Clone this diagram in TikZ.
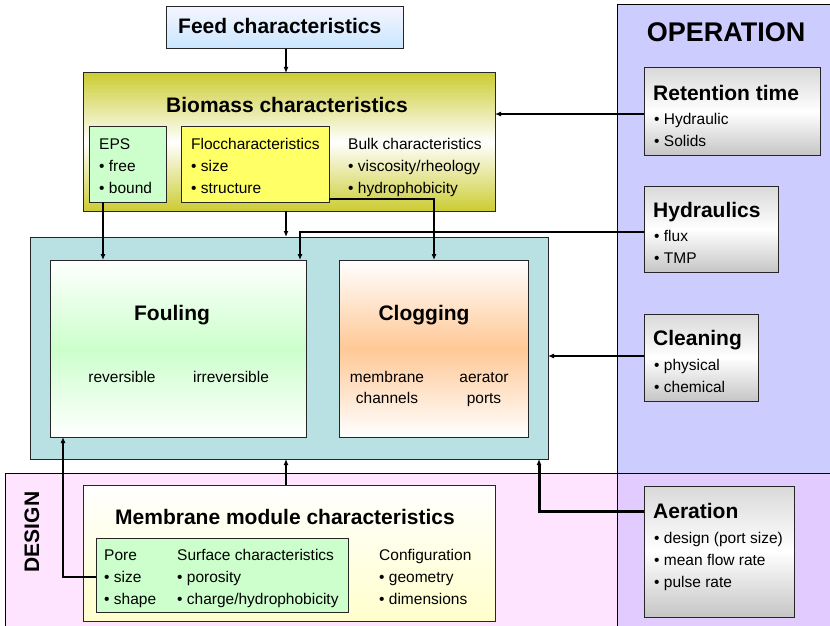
\documentclass[tikz,border=0pt]{standalone}
\usepackage{fontspec}
\setmainfont{Liberation Sans}
\usetikzlibrary{arrows.meta}

\definecolor{opviolet}{RGB}{204,204,255}
\definecolor{despink}{RGB}{255,228,255}
\definecolor{bothlilac}{RGB}{226,204,255}
\definecolor{reactorcyan}{RGB}{185,224,226}
\definecolor{biomassolive}{RGB}{204,204,51}
\definecolor{feedblue}{RGB}{200,230,255}
\definecolor{epsgreen}{RGB}{204,255,204}
\definecolor{flocyellow}{RGB}{255,255,102}
\definecolor{clogorange}{RGB}{255,200,150}
\definecolor{modulecream}{RGB}{255,255,204}

\tikzset{
    box/.style = {draw = black!85, line width = 1pt, inner sep = 0pt, outer sep = 0pt},
    greybox/.style = {box, top color = gray!30, bottom color = gray!45, middle color = white},
    head/.style = {inner sep = 0pt, anchor = base west, font = \fontsize{21}{25}\selectfont\bfseries},
    item/.style = {inner sep = 0pt, anchor = base west, font = \fontsize{15.5}{19}\selectfont},
    link/.style = {black, line width = 1.1pt, -{Latex[length = 6pt, width = 5pt]}},
    thicklink/.style = {link, line width = 2pt},
    heavylink/.style = {link, line width = 3pt}
}

\begin{document}
\begin{tikzpicture}[x = 1pt, y = -1pt]
    \clip (0, 0) rectangle (830, 626);
    \fill[white] (0, 0) rectangle (830, 626);

    % operation / design panels
    \fill[despink] (5, 473) rectangle (840, 640);
    \fill[opviolet] (617, 5) rectangle (840, 473);
    \fill[bothlilac] (617, 473) rectangle (840, 640);
    \draw[black, line width = 1pt] (5, 640) -- (5, 473) -- (840, 473);
    \draw[black, line width = 1pt] (617, 640) -- (617, 5) -- (840, 5);
    \node[head, anchor = base, font = \fontsize{27}{30}\selectfont\bfseries] (optitle) at (726, 42) {OPERATION};
    \node[head, anchor = center, rotate = 90] (destitle) at (32, 532) {DESIGN};

    % feed and biomass
    \node[box, minimum width = 237pt, minimum height = 42pt, top color = blue!4, bottom color = feedblue] (feed) at (284.5, 28) {};
    \node[head] (feedtitle) at (178, 34) {Feed characteristics};

    \node[box, minimum width = 412pt, minimum height = 138pt, top color = biomassolive, bottom color = biomassolive, middle color = white] (bio) at (289, 142) {};
    \node[head, anchor = base] (biotitle) at (287, 112) {Biomass characteristics};

    \node[box, minimum width = 77pt, minimum height = 76pt, fill = epsgreen] (eps) at (127.5, 164) {};
    \node[item] (eps1) at (99, 149) {EPS};
    \node[item] (eps2) at (99, 171) {• free};
    \node[item] (eps3) at (99, 193) {• bound};

    \node[box, minimum width = 148pt, minimum height = 76pt, fill = flocyellow] (floc) at (255, 164) {};
    \node[item] (floc1) at (191, 149) {Floccharacteristics};
    \node[item] (floc2) at (191, 171) {• size};
    \node[item] (floc3) at (191, 193) {• structure};

    \node[item] (bulk1) at (348, 149) {Bulk characteristics};
    \node[item] (bulk2) at (348, 171) {• viscosity/rheology};
    \node[item] (bulk3) at (348, 193) {• hydrophobicity};

    % fouling and clogging
    \node[box, minimum width = 518pt, minimum height = 222pt, fill = reactorcyan] (cyan) at (289, 348) {};
    \node[box, minimum width = 256pt, minimum height = 177pt, top color = white, bottom color = white, middle color = epsgreen] (foul) at (178, 348.5) {};
    \node[head, anchor = base] (foultitle) at (172, 320) {Fouling};
    \node[item, anchor = base] (rev) at (122, 382) {reversible};
    \node[item, anchor = base] (irrev) at (231, 382) {irreversible};

    \node[box, minimum width = 189pt, minimum height = 177pt, top color = white, bottom color = white, middle color = clogorange] (clog) at (433.5, 348.5) {};
    \node[head, anchor = base] (clogtitle) at (424, 320) {Clogging};
    \node[item, anchor = base] (memb1) at (387, 382) {membrane};
    \node[item, anchor = base] (memb2) at (387, 403) {channels};
    \node[item, anchor = base] (aerp1) at (484, 382) {aerator};
    \node[item, anchor = base] (aerp2) at (484, 403) {ports};

    % membrane module
    \node[box, minimum width = 412pt, minimum height = 136pt, top color = white, bottom color = modulecream] (memb) at (289, 553) {};
    \node[head, anchor = base] (membtitle) at (285, 524) {Membrane module characteristics};
    \node[box, minimum width = 252pt, minimum height = 74pt, fill = epsgreen] (pore) at (222, 575) {};
    \node[item] (pore1) at (104, 560) {Pore};
    \node[item] (pore2) at (104, 582) {• size};
    \node[item] (pore3) at (104, 604) {• shape};
    \node[item] (surf1) at (177, 560) {Surface characteristics};
    \node[item] (surf2) at (177, 582) {• porosity};
    \node[item] (surf3) at (177, 604) {• charge/hydrophobicity};
    \node[item] (conf1) at (379, 560) {Configuration};
    \node[item] (conf2) at (379, 582) {• geometry};
    \node[item] (conf3) at (379, 604) {• dimensions};

    % operating parameters
    \node[greybox, minimum width = 176pt, minimum height = 87pt] (ret) at (732, 111.5) {};
    \node[head] (rettitle) at (653, 100) {Retention time};
    \node[item] (ret1) at (654, 124) {• Hydraulic};
    \node[item] (ret2) at (654, 146) {• Solids};

    \node[greybox, minimum width = 134pt, minimum height = 86pt] (hyd) at (711, 229) {};
    \node[head] (hydtitle) at (653, 217) {Hydraulics};
    \node[item] (hyd1) at (654, 241) {• flux};
    \node[item] (hyd2) at (654, 263) {• TMP};

    \node[greybox, minimum width = 114pt, minimum height = 87pt] (clean) at (701, 357.5) {};
    \node[head] (cleantitle) at (653, 345) {Cleaning};
    \node[item] (clean1) at (654, 370) {• physical};
    \node[item] (clean2) at (654, 392) {• chemical};

    \node[greybox, minimum width = 150pt, minimum height = 131pt] (aer) at (719, 551.5) {};
    \node[head] (aertitle) at (653, 518) {Aeration};
    \node[item] (aer1) at (654, 543) {• design (port size)};
    \node[item] (aer2) at (654, 565) {• mean flow rate};
    \node[item] (aer3) at (654, 587) {• pulse rate};

    % connectors
    \coordinate (spine) at (286, 0);
    \draw[thicklink] (feed.south -| spine) -- (bio.north -| spine);
    \draw[thicklink] (bio.south -| spine) -- (cyan.north -| spine);
    \draw[thicklink] (memb.north -| spine) -- (cyan.south -| spine);

    \coordinate (epsdrop) at (103, 0);
    \draw[link] (eps.south -| epsdrop) -- (foul.north -| epsdrop);
    \coordinate (flocbend) at (434, 199);
    \draw[link] (floc.east |- flocbend) -- (flocbend) -- (clog.north -| flocbend);
    \coordinate (hydbend) at (300, 232);
    \draw[link] (hyd.west |- hydbend) -- (hydbend) -- (foul.north -| hydbend);
    \coordinate (retlevel) at (0, 114);
    \draw[link] (ret.west |- retlevel) -- (bio.east |- retlevel);
    \coordinate (cleanlevel) at (0, 356);
    \draw[link] (clean.west |- cleanlevel) -- (cyan.east |- cleanlevel);
    \coordinate (porebend) at (63, 577);
    \draw[link] (pore.west |- porebend) -- (porebend) -- (foul.south -| porebend);
    \coordinate (aerbend) at (539, 511);
    \draw[heavylink] (aer.west |- aerbend) -- (aerbend) -- (cyan.south -| aerbend);
\end{tikzpicture}
\end{document}
